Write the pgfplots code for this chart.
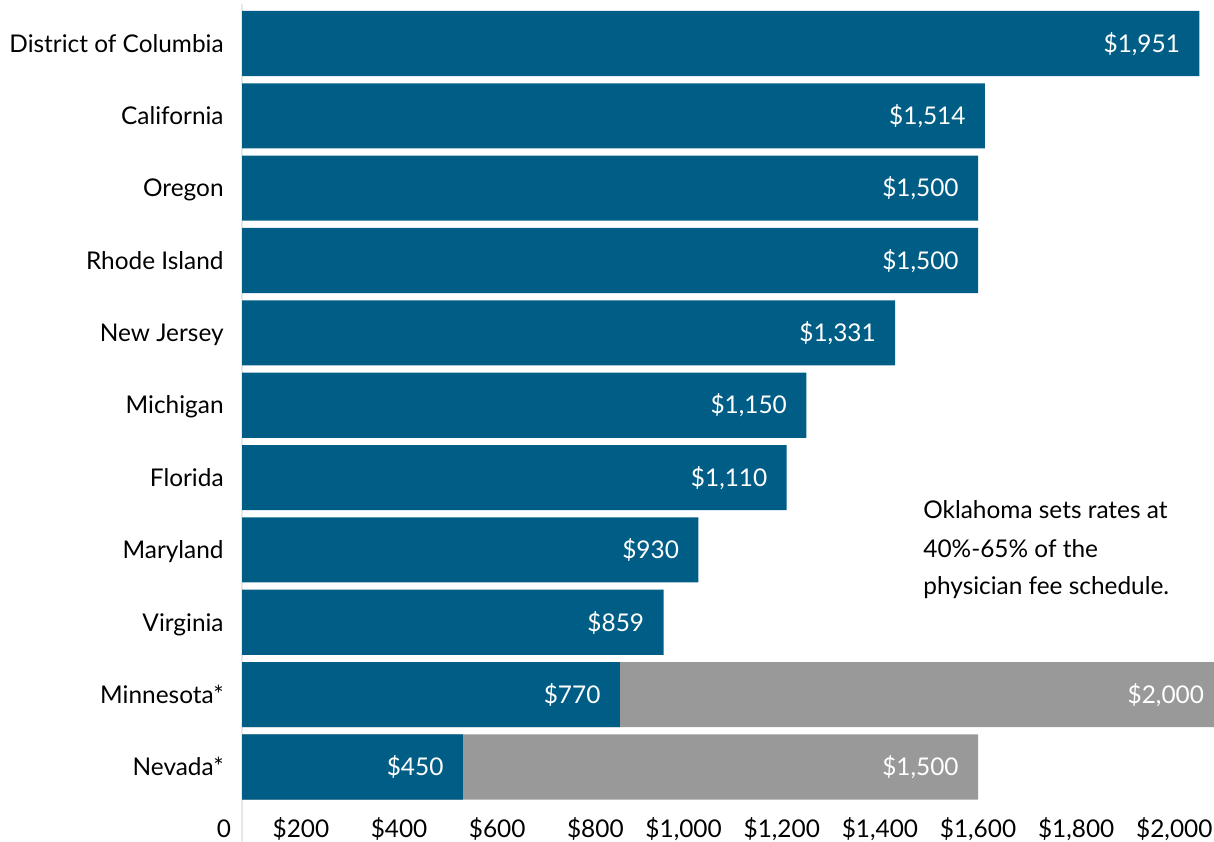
\documentclass[border=0pt]{standalone}
\usepackage{pgfplots}
\pgfplotsset{compat=1.18}
\usepackage{fontspec}
\setmainfont{Lato}
\definecolor{barblue}{RGB}{0,94,134}
\definecolor{bargray}{RGB}{153,153,153}
\definecolor{axisgray}{RGB}{232,232,232}
\newcommand\lbl{\fontsize{12.2pt}{14.6pt}\selectfont}
\begin{document}
\begin{tikzpicture}
\begin{axis}[
  scale only axis,
  width=490.7pt, height=403.35pt,
  xmin=0, xmax=2000, ymin=-0.6, ymax=10.55,
  clip=false,
  axis line style={draw=none},
  major tick length=0pt,
  tick style={draw=none},
  xbar, bar width=0.9, bar shift=0pt,
  ytick={0,...,10},
  yticklabels={Nevada*, Minnesota*, Virginia, Maryland, Florida, Michigan, New Jersey, Rhode Island, Oregon, California, District of Columbia},
  xtick={0,200,...,2000},
  xticklabels={0,\$200,\$400,\$600,\$800,\$1{,}000,\$1{,}200,\$1{,}400,\$1{,}600,\$1{,}800,\$2{,}000},
  yticklabel style={font=\lbl, anchor=base east, inner sep=0pt, xshift=-9pt, yshift=-4.37pt, text=black},
  xticklabel style={font=\lbl, anchor=base east, inner sep=0pt, xshift=-5.25pt, yshift=-13.8pt, text=black},
  point meta=x,
  nodes near coords={\$\pgfmathprintnumber[assume math mode=true, fixed, precision=0, 1000 sep={,}]{\pgfplotspointmeta}},
  every node near coord/.append style={font=\lbl, text=white, anchor=base east, inner sep=0pt, xshift=-9.5pt, yshift=-4.37pt},
]
\draw[axisgray, line width=1pt] (axis cs:0,10.55) -- (axis cs:0,-1.0366);
\addplot[fill=bargray, draw=none] coordinates {(2000,1) (1500,0)};
\addplot[fill=barblue, draw=none] coordinates {
  (1951,10) (1514,9) (1500,8) (1500,7) (1331,6) (1150,5)
  (1110,4) (930,3) (859,2) (770,1) (450,0)};
\node[font=\lbl, anchor=base west, inner sep=0pt] at (axis cs:1387.8,3.428) {Oklahoma sets rates at};
\node[font=\lbl, anchor=base west, inner sep=0pt] at (axis cs:1387.8,2.902) {40\%-65\% of the};
\node[font=\lbl, anchor=base west, inner sep=0pt] at (axis cs:1387.8,2.377) {physician fee schedule.};
\coordinate (bbsw) at (axis cs:-493.2,-1.0366);
\coordinate (bbne) at (axis cs:1980.9,10.601);
\end{axis}
\pgfresetboundingbox
\useasboundingbox (bbsw) rectangle (bbne);
\end{tikzpicture}
\end{document}
